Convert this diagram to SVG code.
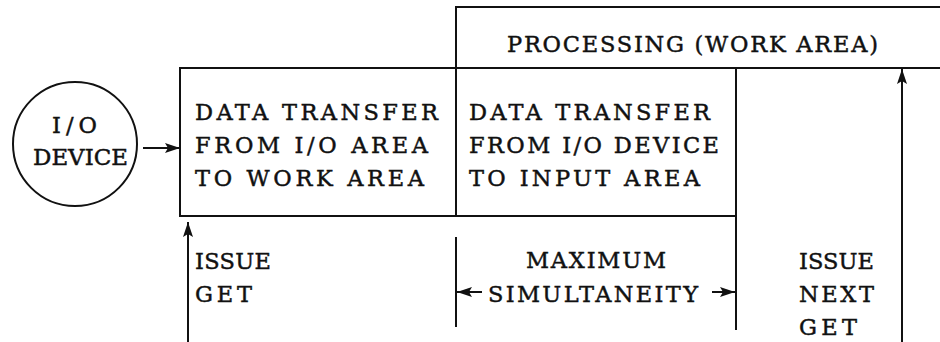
<svg xmlns="http://www.w3.org/2000/svg" width="940" height="342" viewBox="0 0 940 342">
<style>
  .ln { stroke: #111; stroke-width: 2; fill: none; }
  .t { font-family: "DejaVu Serif", "Liberation Serif", serif; font-size: 22.5px; fill: #111; stroke: #111; stroke-width: 0.45; }
</style>
<defs>
  <marker id="ah" markerUnits="userSpaceOnUse" markerWidth="16" markerHeight="10" refX="15" refY="5" orient="auto">
    <path d="M0,0 L15,5 L0,10 L3,5 Z" fill="#111"/>
  </marker>
</defs>
<rect width="940" height="342" fill="#fff"/>

<g id="io-device">
  <circle class="ln" cx="75" cy="144" r="62"/>
  <text class="t" x="52" y="133" textLength="45">I/O</text>
  <text class="t" x="33" y="165" textLength="95" lengthAdjust="spacingAndGlyphs">DEVICE</text>
</g>

<g id="processing">
  <polyline class="ln" points="456,68 456,7 940,7"/>
  <text class="t" x="507" y="52" textLength="371">PROCESSING (WORK AREA)</text>
</g>

<g id="transfer-work">
  <rect class="ln" x="180" y="68" width="276" height="148"/>
  <text class="t" x="195" y="120" textLength="243">DATA TRANSFER</text>
  <text class="t" x="195" y="153" textLength="233">FROM I/O AREA</text>
  <text class="t" x="195" y="186" textLength="229">TO WORK AREA</text>
</g>

<g id="transfer-input">
  <polyline class="ln" points="456,68 736,68 736,330"/>
  <line class="ln" x1="456" y1="216" x2="736" y2="216"/>
  <text class="t" x="469" y="120" textLength="241">DATA TRANSFER</text>
  <text class="t" x="469" y="153" textLength="250">FROM I/O DEVICE</text>
  <text class="t" x="469" y="186" textLength="231">TO INPUT AREA</text>
</g>

<g id="issue-get">
  <text class="t" x="195" y="269" textLength="76">ISSUE</text>
  <text class="t" x="195" y="302" textLength="57">GET</text>
</g>

<g id="max-simultaneity">
  <line class="ln" x1="456" y1="237" x2="456" y2="327"/>
  <text class="t" x="526" y="268" textLength="140">MAXIMUM</text>
  <text class="t" x="488" y="302" textLength="210">SIMULTANEITY</text>
</g>

<g id="issue-next-get">
  <text class="t" x="799" y="269" textLength="75">ISSUE</text>
  <text class="t" x="799" y="302" textLength="75">NEXT</text>
  <text class="t" x="799" y="335" textLength="58">GET</text>
</g>

<g id="connectors">
  <line class="ln" x1="736" y1="68" x2="940" y2="68"/>
  <line class="ln" x1="143" y1="148" x2="180" y2="148" marker-end="url(#ah)"/>
  <line class="ln" x1="188" y1="342" x2="188" y2="222" marker-end="url(#ah)"/>
  <line class="ln" x1="902" y1="342" x2="902" y2="69" marker-end="url(#ah)"/>
  <line class="ln" x1="482" y1="292" x2="457" y2="292" marker-end="url(#ah)"/>
  <line class="ln" x1="712" y1="292" x2="735" y2="292" marker-end="url(#ah)"/>
</g>
</svg>
